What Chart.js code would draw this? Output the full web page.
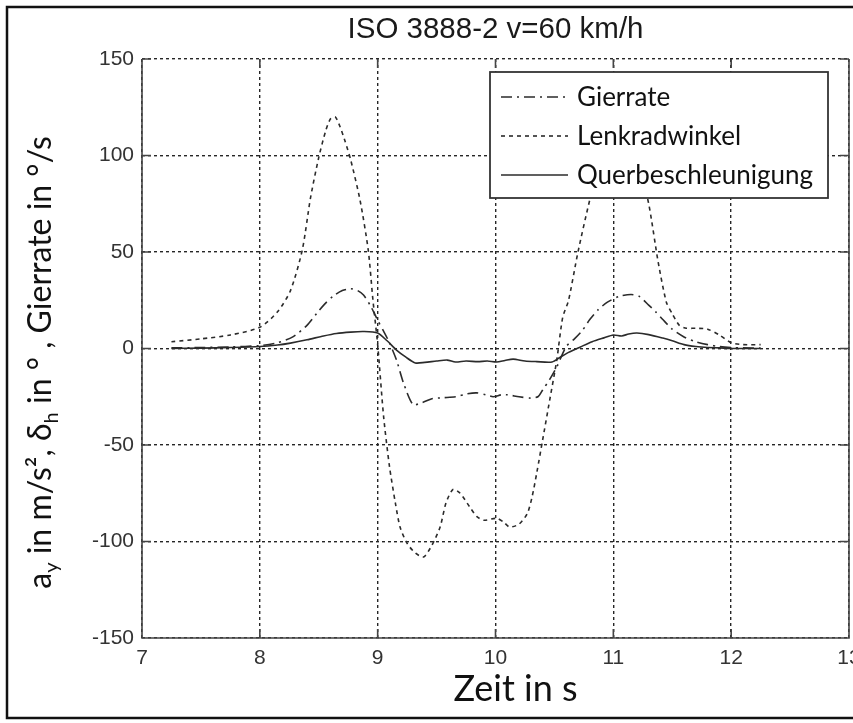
<!DOCTYPE html>
<html lang="de">
<head>
<meta charset="UTF-8" />
<title>ISO 3888-2 v=60 km/h</title>
<script src="https://cdn.jsdelivr.net/npm/chart.js"></script>
<style>
  html, body { margin: 0; padding: 0; background: #fff; }
  canvas { display: block; }
</style>
</head>
<body>
<canvas id="isoChart" width="853" height="723"></canvas>
<script>
  // Werte (Zeit in s)
  const gierTime = [7.25, 7.5, 7.75, 8.0, 8.15, 8.28, 8.4, 8.48, 8.55, 8.62, 8.7, 8.77, 8.83, 8.88, 8.94, 9.0, 9.05, 9.1, 9.16, 9.22, 9.3, 9.38, 9.46, 9.56, 9.66, 9.76, 9.84, 9.92, 9.98, 10.05, 10.1, 10.2, 10.3, 10.36, 10.4, 10.46, 10.52, 10.6, 10.67, 10.74, 10.8, 10.87, 10.95, 11.05, 11.15, 11.22, 11.3, 11.36, 11.42, 11.5, 11.6, 11.7, 11.8, 11.9, 12.0, 12.1, 12.25];
  const gierRate = [0.3, 0.5, 0.8, 1.5, 3, 6, 12, 18, 23, 27, 30, 31, 30, 27.7, 22, 14.7, 9, 3, -6, -18, -29, -28, -26, -25.5, -25, -23.5, -23, -24, -25, -24, -24, -25, -25.7, -25, -21.5, -16, -9.5, 1, 5, 9.6, 15, 20, 24, 27, 28, 27, 22.5, 19, 15, 10, 6, 3.5, 2, 1, 0.5, 0.3, 0.2];

  const lenkTime = [7.25, 7.5, 7.75, 8.0, 8.15, 8.26, 8.36, 8.43, 8.5, 8.56, 8.6, 8.64, 8.68, 8.72, 8.77, 8.85, 8.92, 8.96, 9.0, 9.05, 9.1, 9.15, 9.19, 9.25, 9.32, 9.39, 9.46, 9.53, 9.58, 9.64, 9.7, 9.78, 9.84, 9.9, 10.01, 10.07, 10.12, 10.2, 10.27, 10.31, 10.35, 10.4, 10.46, 10.52, 10.57, 10.62, 10.7, 10.8, 10.9, 10.98, 11.05, 11.12, 11.2, 11.3, 11.38, 11.45, 11.5, 11.56, 11.62, 11.7, 11.8, 11.9, 12.0, 12.1, 12.25];
  const lenkWinkel = [3.5, 5, 7, 11, 19, 30, 51, 78, 99, 113, 119, 120, 115, 108, 98, 77, 51, 25, 2, -35, -61, -80, -92.5, -101, -106, -108, -102, -92.5, -80, -73, -75, -82, -87, -89, -88, -90, -92.5, -91, -85.5, -77, -64.5, -47.4, -26.7, -6, 16, 25, 50, 77, 100, 114, 118, 114, 100, 75, 45, 24, 18, 12, 10.5, 10.5, 10, 7, 3, 2, 2];

  const querTime = [7.25, 7.5, 7.75, 8.0, 8.15, 8.26, 8.4, 8.54, 8.65, 8.77, 8.88, 9.0, 9.08, 9.16, 9.24, 9.32, 9.4, 9.5, 9.59, 9.66, 9.75, 9.85, 9.93, 10.01, 10.08, 10.15, 10.25, 10.35, 10.48, 10.55, 10.62, 10.72, 10.82, 10.92, 11.0, 11.07, 11.13, 11.2, 11.3, 11.42, 11.5, 11.6, 11.7, 11.8, 11.9, 12.0, 12.1, 12.25];
  const querBeschl = [0, 0.2, 0.5, 1, 1.8, 2.8, 4.5, 6.5, 7.8, 8.5, 8.8, 8, 4, -0.8, -4.5, -7.5, -7.2, -6.5, -6, -7, -6.5, -6.8, -6.5, -7, -6.2, -5.5, -6.5, -6.8, -7, -4.5, -2, 0.8, 3.5, 5.5, 7, 6.5, 7.5, 8, 7.2, 5.4, 4, 2, 1, 0.5, 0.3, 0, 0, 0];

  const seriesNames = ['Gierrate', 'Lenkradwinkel', 'Querbeschleunigung'];
  const xTicks = [7, 8, 9, 10, 11, 12, 13];
  const yTicks = [-150, -100, -50, 0, 50, 100, 150];

  const ink = '#2b2b2b';

  function toPoints(xs, ys) {
    return xs.map((x, i) => ({ x: x, y: ys[i] }));
  }

  // Rahmen um die ganze Abbildung + weisser Hintergrund
  const frame = {
    id: 'frame',
    beforeDraw(chart) {
      const ctx = chart.ctx;
      ctx.save();
      ctx.fillStyle = '#fff';
      ctx.fillRect(0, 0, chart.width, chart.height);
      ctx.strokeStyle = '#111';
      ctx.lineWidth = 2.5;
      ctx.strokeRect(7, 7, chart.width + 20, chart.height - 12);
      ctx.restore();
    }
  };

  // Achsenbox mit Ticks nach innen (Matlab-Stil)
  const axesBox = {
    id: 'axesBox',
    afterDatasetsDraw(chart) {
      const { ctx, chartArea: a, scales } = chart;
      const len = 9;
      ctx.save();
      ctx.strokeStyle = '#444';
      ctx.lineWidth = 1.6;
      ctx.beginPath();
      ctx.moveTo(a.left, a.top);
      ctx.lineTo(a.left, a.bottom);
      ctx.lineTo(a.right, a.bottom);
      ctx.lineTo(a.right, a.top);
      xTicks.forEach(v => {
        const px = scales.x.getPixelForValue(v);
        ctx.moveTo(px, a.bottom); ctx.lineTo(px, a.bottom - len);
        ctx.moveTo(px, a.top); ctx.lineTo(px, a.top + len);
      });
      yTicks.forEach(v => {
        const py = scales.y.getPixelForValue(v);
        ctx.moveTo(a.left, py); ctx.lineTo(a.left + len, py);
        ctx.moveTo(a.right, py); ctx.lineTo(a.right - len, py);
      });
      ctx.stroke();
      ctx.restore();
    }
  };

  // Legende oben rechts im Plot
  const boxLegend = {
    id: 'boxLegend',
    afterDraw(chart) {
      const { ctx, chartArea: a } = chart;
      const x0 = a.left + 348, y0 = a.top + 13, w = 338, h = 126;
      ctx.save();
      ctx.fillStyle = '#fff';
      ctx.fillRect(x0, y0, w, h);
      ctx.strokeStyle = '#333';
      ctx.lineWidth = 1.8;
      ctx.strokeRect(x0, y0, w, h);
      ctx.font = '26px Lato, "Open Sans", sans-serif';
      ctx.textBaseline = 'middle';
      chart.data.datasets.forEach((ds, i) => {
        const cy = y0 + 25 + i * 39;
        ctx.strokeStyle = ds.borderColor;
        ctx.lineWidth = ds.borderWidth;
        ctx.setLineDash(ds.borderDash || []);
        ctx.beginPath();
        ctx.moveTo(x0 + 11, cy);
        ctx.lineTo(x0 + 78, cy);
        ctx.stroke();
        ctx.setLineDash([]);
        ctx.fillStyle = '#111';
        ctx.fillText(ds.label, x0 + 87, cy + 1);
      });
      ctx.restore();
    }
  };

  // Achsentitel mit Index-Zeichen
  const axisLabels = {
    id: 'axisLabels',
    afterDraw(chart) {
      const { ctx, chartArea: a } = chart;
      const size = 32;
      const main = size + 'px Lato, "Open Sans", sans-serif';
      const sub = Math.round(size * 0.62) + 'px Lato, "Open Sans", sans-serif';
      const parts = [
        ['a', main, 0], ['y', sub, 7], [' in m/s², ', main, 0],
        ['δ', main, 0], ['h', sub, 7], [' in ° , Gierrate in °/s', main, 0]
      ];
      ctx.save();
      ctx.fillStyle = '#111';
      ctx.textBaseline = 'alphabetic';
      let total = 0;
      parts.forEach(p => { ctx.font = p[1]; total += ctx.measureText(p[0]).width; });
      ctx.translate(51, (a.top + a.bottom) / 2 + 14);
      ctx.rotate(-Math.PI / 2);
      let x = -total / 2;
      parts.forEach(p => {
        ctx.font = p[1];
        ctx.fillText(p[0], x, p[2]);
        x += ctx.measureText(p[0]).width;
      });
      ctx.restore();

      ctx.save();
      ctx.fillStyle = '#111';
      ctx.font = '36px Lato, "Open Sans", sans-serif';
      ctx.textAlign = 'center';
      ctx.textBaseline = 'alphabetic';
      ctx.fillText('Zeit in s', (a.left + a.right) / 2 + 20, 701);
      ctx.restore();
    }
  };

  const tickFont = { family: '"Liberation Sans", Arial, sans-serif', size: 21 };

  new Chart(document.getElementById('isoChart'), {
    type: 'line',
    data: {
      datasets: [
        {
          label: seriesNames[0],
          data: toPoints(gierTime, gierRate),
          borderColor: ink, borderWidth: 1.6,
          borderDash: [11, 5, 2, 5]
        },
        {
          label: seriesNames[1],
          data: toPoints(lenkTime, lenkWinkel),
          borderColor: ink, borderWidth: 1.6,
          borderDash: [4, 4]
        },
        {
          label: seriesNames[2],
          data: toPoints(querTime, querBeschl),
          borderColor: ink, borderWidth: 1.6,
          borderDash: []
        }
      ]
    },
    options: {
      responsive: false,
      animation: false,
      elements: { point: { radius: 0 }, line: { tension: 0.25 } },
      layout: { padding: { left: 0, right: 4, top: 0, bottom: 0 } },
      plugins: {
        legend: { display: false },
        tooltip: { enabled: false },
        title: {
          display: true,
          fullSize: false,
          text: 'ISO 3888-2 v=60 km/h',
          color: '#1a1a1a',
          font: { family: '"Liberation Sans", Arial, sans-serif', size: 29.5, weight: 'normal', lineHeight: 1.2 },
          padding: { top: 12, bottom: 11.6 }
        }
      },
      scales: {
        x: {
          type: 'linear',
          min: 7, max: 13,
          afterFit: s => { s.height = 85; s.paddingRight = 0; s.paddingLeft = 0; },
          afterBuildTicks: s => { s.ticks = xTicks.map(v => ({ value: v })); },
          ticks: { color: '#333', font: tickFont, padding: 8, maxRotation: 0 },
          grid: { color: '#262626', lineWidth: 1.4, drawTicks: false },
          border: { display: false, dash: [3, 3] }
        },
        y: {
          min: -150, max: 150,
          afterFit: s => { s.width = 142; s.paddingTop = 0; s.paddingBottom = 0; },
          afterBuildTicks: s => { s.ticks = yTicks.map(v => ({ value: v })); },
          ticks: { color: '#333', font: tickFont, padding: 8 },
          grid: { color: '#262626', lineWidth: 1.4, drawTicks: false },
          border: { display: false, dash: [3, 3] }
        }
      }
    },
    plugins: [frame, axesBox, boxLegend, axisLabels]
  });
</script>
</body>
</html>
